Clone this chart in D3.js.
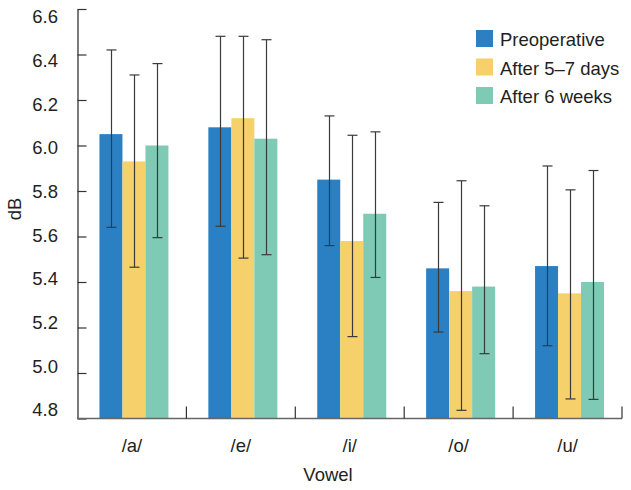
<!DOCTYPE html>
<html>
<head>
<meta charset="utf-8">
<script src="https://cdn.jsdelivr.net/npm/d3@7"></script>
<style>
  html, body { margin: 0; padding: 0; background: #fff; }
  svg { display: block; font-family: "Liberation Sans", Arial, sans-serif; }
</style>
</head>
<body>
<svg id="chart" width="631" height="490"></svg>
<script>
const vowels = ["/a/", "/e/", "/i/", "/o/", "/u/"];
const seriesNames = ["Preoperative", "After 5\u20137 days", "After 6 weeks"];
const colors = ["#2a80c3", "#f6d06b", "#7ecab4"];

// mean values per series (in vowel order)
const preoperative = [6.05, 6.08, 5.85, 5.46, 5.47];
const after5to7days = [5.93, 6.12, 5.58, 5.36, 5.35];
const after6weeks = [6.00, 6.03, 5.70, 5.38, 5.40];

// error bar upper / lower limits
const preopHigh = [6.42, 6.48, 6.13, 5.75, 5.91];
const preopLow = [5.64, 5.645, 5.56, 5.18, 5.12];
const days57High = [6.31, 6.48, 6.045, 5.845, 5.805];
const days57Low = [5.465, 5.505, 5.16, 4.836, 4.886];
const weeks6High = [6.36, 6.465, 6.06, 5.735, 5.89];
const weeks6Low = [5.595, 5.52, 5.42, 5.085, 4.884];

const yTicks = [4.8, 5.0, 5.2, 5.4, 5.6, 5.8, 6.0, 6.2, 6.4, 6.6];

const seriesValues = [preoperative, after5to7days, after6weeks];
const seriesHigh = [preopHigh, days57High, weeks6High];
const seriesLow = [preopLow, days57Low, weeks6Low];

const svg = d3.select("#chart");
const textColor = "#231f20";

const mLeft = 77.5, mRight = 622, mTop = 9, mBottom = 418.5;

const x = d3.scaleBand().domain(vowels).range([mLeft, mRight]).padding(0);
const xInner = d3.scaleBand().domain(d3.range(seriesNames.length)).range([0, 69]).padding(0);
const y = d3.scaleLinear().domain([4.8, 6.6]).range([mBottom, mTop]);
// tick labels in the reference sit slightly compressed inside the axis ends
const yLabel = d3.scaleLinear().domain([4.8, 6.6]).range([410, 17]);

// bars
const rows = [];
seriesNames.forEach((s, si) => {
  vowels.forEach((v, vi) => {
    rows.push({ s: si, v: v, value: seriesValues[si][vi], hi: seriesHigh[si][vi], lo: seriesLow[si][vi] });
  });
});

const barX = d => x(d.v) + x.bandwidth() / 2 - 34.5 + 2 + xInner(d.s);

svg.append("g").selectAll("rect").data(rows).join("rect")
  .attr("x", d => barX(d))
  .attr("width", xInner.bandwidth())
  .attr("y", d => y(d.value))
  .attr("height", d => mBottom - y(d.value))
  .attr("fill", d => colors[d.s]);

// error bars
const eg = svg.append("g").attr("stroke", "#3a3a3a").attr("stroke-width", 1.2);
rows.forEach(d => {
  const cx = Math.round(barX(d) + xInner.bandwidth() / 2) + 0.5;
  eg.append("line").attr("x1", cx).attr("x2", cx).attr("y1", y(d.hi)).attr("y2", y(d.lo));
  eg.append("line").attr("x1", cx - 5).attr("x2", cx + 5).attr("y1", y(d.hi)).attr("y2", y(d.hi));
  eg.append("line").attr("x1", cx - 5).attr("x2", cx + 5).attr("y1", y(d.lo)).attr("y2", y(d.lo));
});

// y axis
const yAxis = d3.axisLeft(y).tickValues(yTicks).tickFormat(d3.format(".1f")).tickSizeInner(-9).tickSizeOuter(0).tickPadding(19.5);
const yg = svg.append("g").attr("transform", `translate(${mLeft},0)`).call(yAxis);
yg.select(".domain").attr("stroke", "#333").attr("stroke-width", 1.3);
yg.selectAll(".tick line").attr("stroke", "#333").attr("stroke-width", 1.2);
yg.selectAll(".tick text").attr("font-size", 18.5).attr("fill", textColor)
  .attr("font-family", "'Liberation Sans', Arial, sans-serif")
  .attr("y", d => yLabel(d) - y(d));

// x axis
const xg = svg.append("g").attr("transform", `translate(0,${mBottom})`);
xg.append("line").attr("x1", mLeft).attr("x2", mRight).attr("y1", 0).attr("y2", 0)
  .attr("stroke", "#666").attr("stroke-width", 1.6);
const boundaries = vowels.slice(1).map(v => x(v)).concat([mRight]);
xg.selectAll("line.tk").data(boundaries).join("line").attr("class", "tk")
  .attr("x1", d => d).attr("x2", d => d).attr("y1", 0).attr("y2", -12)
  .attr("stroke", "#333").attr("stroke-width", 1.2);
xg.selectAll("text").data(vowels).join("text")
  .attr("x", d => x(d) + x.bandwidth() / 2)
  .attr("y", 33)
  .attr("text-anchor", "middle")
  .attr("font-size", 18.5)
  .attr("fill", textColor)
  .text(d => d);

// axis titles
svg.append("text").attr("x", 328).attr("y", 481).attr("text-anchor", "middle")
  .attr("font-size", 18.5).attr("fill", textColor).text("Vowel");
svg.append("text").attr("transform", "translate(21,209) rotate(-90)").attr("text-anchor", "middle")
  .attr("font-size", 18.5).attr("fill", textColor).text("dB");

// legend
const lg = svg.append("g").attr("transform", "translate(476,30)");
seriesNames.forEach((s, i) => {
  const g = lg.append("g").attr("transform", `translate(0,${i * 28.5})`);
  g.append("rect").attr("width", 17).attr("height", 17).attr("fill", colors[i]);
  g.append("text").attr("x", 24).attr("y", 16).attr("font-size", 18.5).attr("fill", textColor).text(s);
});
</script>
</body>
</html>
